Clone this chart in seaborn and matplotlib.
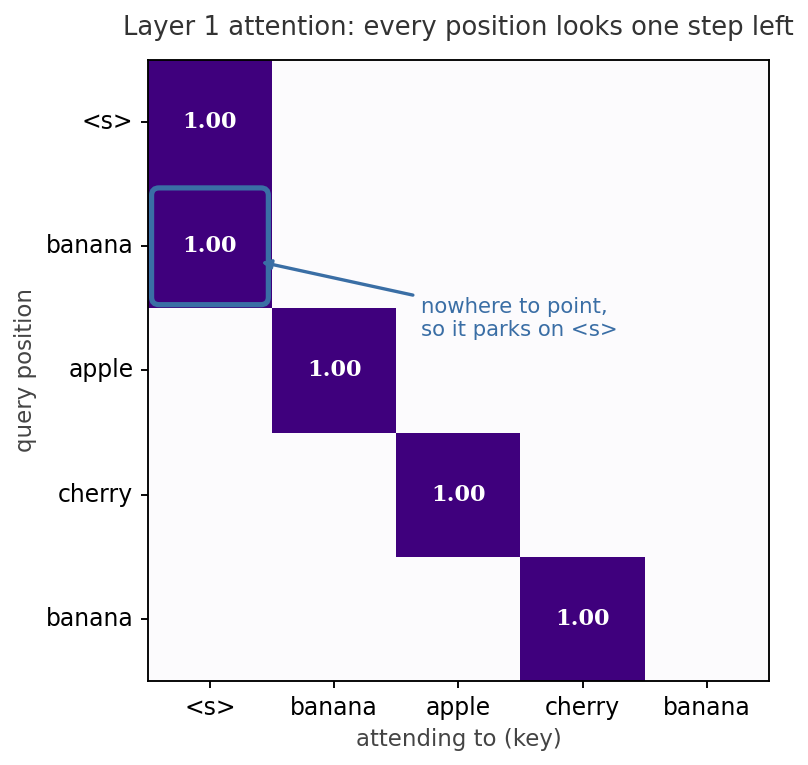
import numpy as np
import seaborn as sns
import matplotlib.pyplot as plt
from matplotlib.patches import FancyBboxPatch

tokens = ['<s>', 'banana', 'apple', 'cherry', 'banana']
# attention weights, row = query, col = key
attn = np.array([
    [1.0, 0.0, 0.0, 0.0, 0.0],
    [1.0, 0.0, 0.0, 0.0, 0.0],
    [0.0, 1.0, 0.0, 0.0, 0.0],
    [0.0, 0.0, 1.0, 0.0, 0.0],
    [0.0, 0.0, 0.0, 1.0, 0.0],
])

labels = np.where(attn > 0.005, np.char.mod('%.2f', attn), '')

fig = plt.figure(figsize=(808 / 150, 765 / 150), dpi=150)
ax = fig.add_axes([0.183, 0.1098, 0.7686, 0.8118])

sns.heatmap(attn, cmap='Purples', vmin=0, vmax=1, cbar=False, square=False,
            annot=labels, fmt='',
            annot_kws={'family': 'DejaVu Serif', 'weight': 'bold', 'size': 10.8, 'color': 'white'},
            xticklabels=tokens, yticklabels=tokens, ax=ax)

for s in ax.spines.values():
    s.set_visible(True)
    s.set_linewidth(0.9)
ax.tick_params(axis='both', length=3.5, width=0.9, labelsize=11.3)
plt.setp(ax.get_yticklabels(), rotation=0)
plt.setp(ax.get_xticklabels(), rotation=0)

ax.set_title('Layer 1 attention: every position looks one step left', fontsize=12.4, color='#333333', pad=12)
ax.set_xlabel('attending to (key)', fontsize=11, color='#444444')
ax.set_ylabel('query position', fontsize=11, color='#444444')

# highlight the <s> parking cell
box = FancyBboxPatch((0.03, 1.03), 0.94, 0.94, boxstyle='round,pad=0,rounding_size=0.06',
                     fill=False, edgecolor='#3a6ea5', linewidth=2.5)
ax.add_patch(box)

ax.annotate('nowhere to point,\nso it parks on <s>', xy=(0.88, 1.62), xytext=(2.2, 2.08),
            ha='left', va='center', fontsize=10.2, color='#3a6ea5',
            arrowprops=dict(arrowstyle='-|>', color='#3a6ea5', lw=1.6, mutation_scale=9))

fig.savefig('out.png', dpi=150)
